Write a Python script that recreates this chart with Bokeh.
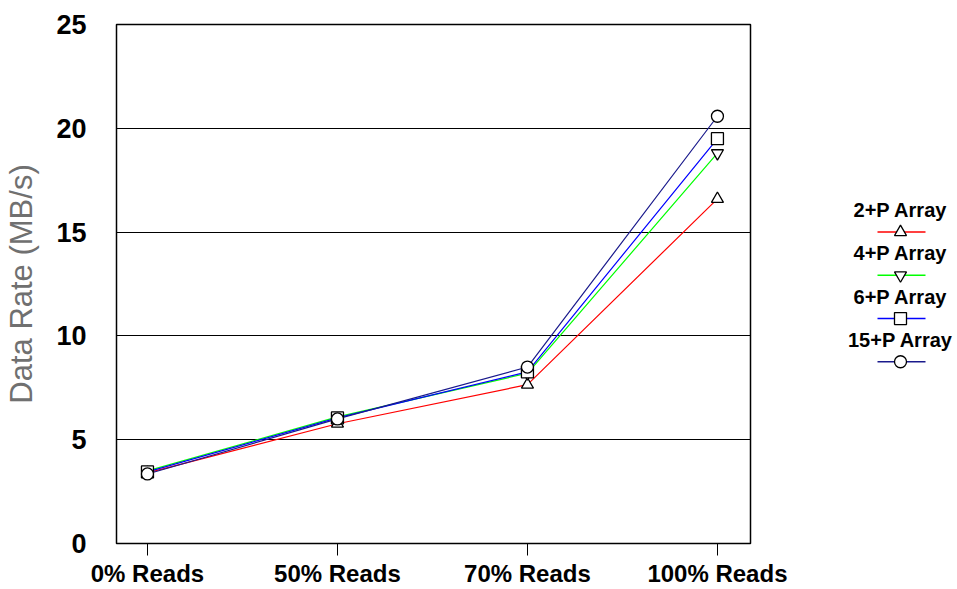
from bokeh.plotting import figure
from bokeh.layouts import row
from bokeh.models import Range1d, FixedTicker
from bokeh.embed import file_html
from bokeh.resources import INLINE
from bokeh.core.properties import value

categories = ["0% Reads", "50% Reads", "70% Reads", "100% Reads"]
series_names = ["2+P Array", "4+P Array", "6+P Array", "15+P Array"]
vals_2p = [3.4, 5.77, 7.65, 16.6]
vals_4p = [3.5, 6.1, 8.2, 18.8]
vals_6p = [3.45, 6.05, 8.27, 19.5]
vals_15p = [3.35, 6.0, 8.5, 20.58]
y_ticks = [0, 5, 10, 15, 20, 25]

series_vals = [vals_2p, vals_4p, vals_6p, vals_15p]
colors = ["#FF0000", "#00FF00", "#0000FF", "#1A1A8C"]
markers = ["triangle", "inverted_triangle", "square", "circle"]

xs = list(range(len(categories)))

p = figure(width=790, height=589, output_backend="svg", toolbar_location=None,
           x_range=Range1d(-0.163, 3.174), y_range=Range1d(0, 25),
           min_border_left=116, min_border_right=40, min_border_top=24, min_border_bottom=45)
p.outline_line_color = "black"
p.outline_line_width = 1.5
p.background_fill_color = "white"
p.border_fill_color = "white"

p.xgrid.grid_line_color = None
p.ygrid.grid_line_color = "black"
p.ygrid.grid_line_width = 1
p.ygrid.ticker = FixedTicker(ticks=y_ticks)

p.xaxis.ticker = FixedTicker(ticks=xs)
p.xaxis.major_label_overrides = {i: c for i, c in enumerate(categories)}
p.xaxis.axis_line_color = None
p.xaxis.major_tick_in = 0
p.xaxis.major_tick_out = 12
p.xaxis.major_tick_line_color = "black"
p.xaxis.minor_tick_line_color = None
p.xaxis.major_label_text_font = "Liberation Sans"
p.xaxis.major_label_text_font_style = "bold"
p.xaxis.major_label_text_font_size = "24px"
p.xaxis.major_label_text_color = "black"
p.xaxis.major_label_standoff = 4

p.yaxis.ticker = FixedTicker(ticks=y_ticks)
p.yaxis.axis_line_color = None
p.yaxis.major_tick_line_color = None
p.yaxis.minor_tick_line_color = None
p.yaxis.major_label_text_font = "Liberation Sans"
p.yaxis.major_label_text_font_style = "bold"
p.yaxis.major_label_text_font_size = "27px"
p.yaxis.major_label_text_color = "black"
p.yaxis.major_label_standoff = 24
p.yaxis.axis_label = "Data Rate (MB/s)"
p.yaxis.axis_label_text_font = "Liberation Sans"
p.yaxis.axis_label_text_font_style = "normal"
p.yaxis.axis_label_text_font_size = "31px"
p.yaxis.axis_label_text_color = "#707070"
p.yaxis.axis_label_standoff = 14

for vals, col in zip(series_vals, colors):
    p.line(xs, vals, line_color=col, line_width=1.2)
for vals, mk in zip(series_vals, markers):
    p.scatter(xs, vals, marker=mk, size=12, fill_color="white", line_color="black", line_width=1.3)

# legend panel (coordinates in page pixels)
lg = figure(width=167, height=589, output_backend="svg", toolbar_location=None,
            x_range=Range1d(0, 167), y_range=Range1d(544, 24),
            min_border=0, min_border_left=0, min_border_right=0, min_border_top=24, min_border_bottom=45)
lg.axis.visible = False
lg.grid.visible = False
lg.outline_line_color = None
lg.border_fill_color = "white"
lg.background_fill_color = "white"

text_y0 = 210
step = 43.3
ty = [text_y0 + i * step for i in range(4)]
ly = [t + 22 for t in ty]
lg.text(x=[110] * 4, y=ty, text=series_names, text_align="center", text_baseline="middle",
        text_font=value("Liberation Sans"), text_font_style="bold", text_font_size="20px", text_color="black")
lg.segment(x0=[87] * 4, y0=ly, x1=[135] * 4, y1=ly, line_color=colors, line_width=1.5)
for i, mk in enumerate(markers):
    lg.scatter([110], [ly[i]], marker=mk, size=12, fill_color="white", line_color="black", line_width=1.3)

layout = row(p, lg)
open("out.html", "w").write(file_html(layout, INLINE))
